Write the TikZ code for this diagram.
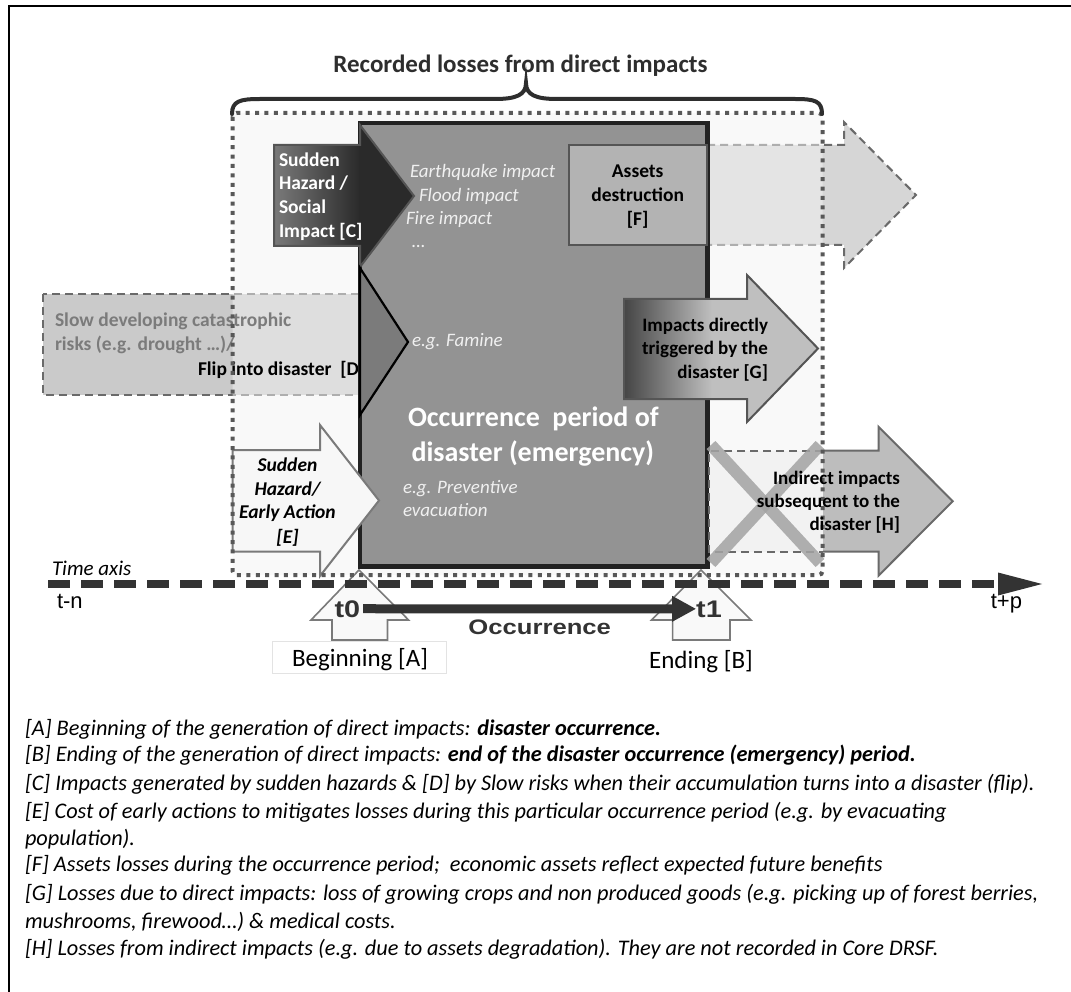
\documentclass[tikz,border=0pt]{standalone}
\usepackage{fontspec}
\setmainfont{Carlito}
\newfontfamily\arl{Liberation Sans}
\usepackage{graphicx}
\usetikzlibrary{arrows.meta}
\definecolor{mainfill}{HTML}{939393}
\definecolor{mainborder}{HTML}{222222}
\definecolor{dfill}{HTML}{CACACA}
\definecolor{ffill}{HTML}{D6D6D6}
\definecolor{regionfill}{HTML}{F3F3F3}
\definecolor{dashgray}{HTML}{6A6A6A}
\definecolor{dotgray}{HTML}{585858}
\definecolor{cleft}{HTML}{7A7A7A}
\definecolor{cdark}{HTML}{2A2A2A}
\definecolor{coutline}{HTML}{555555}
\definecolor{famfill}{HTML}{7B7B7B}
\definecolor{efill}{HTML}{F7F7F7}
\definecolor{eout}{HTML}{7A7A7A}
\definecolor{fboxfill}{HTML}{B3B3B3}
\definecolor{gfill}{HTML}{BFBFBF}
\definecolor{gdark}{HTML}{454545}
\definecolor{hfill}{HTML}{BDBDBD}
\definecolor{hlight}{HTML}{F2F2F2}
\definecolor{crossc}{HTML}{A3A3A3}
\definecolor{axisc}{HTML}{333333}
\definecolor{whitish}{HTML}{F0F0F0}
\definecolor{dgrayt}{HTML}{7B7B7B}
\definecolor{titlec}{HTML}{2E2E2E}
\definecolor{tarrow}{HTML}{F9F9F9}
\definecolor{tout}{HTML}{7A7A7A}
\definecolor{begbox}{HTML}{E3E3E3}
\newcommand\myfs[1]{\fontsize{#1}{#1}\selectfont}
\begin{document}
\begin{tikzpicture}[x=1pt,y=-1pt,
  lbl/.style={inner sep=0pt,outer sep=0pt},
  dashbox/.style={draw=dashgray,line width=2pt,dash pattern=on 8pt off 5pt},
  dotbord/.style={draw=dotgray,line width=4pt,dash pattern=on 4pt off 5.4pt},
  wbold/.style={lbl,anchor=base west,font=\myfs{19.5}\bfseries,text=white},
  dgr/.style={lbl,anchor=base west,font=\myfs{19.5}\bfseries,text=dgrayt},
  witl/.style={lbl,anchor=base west,font=\myfs{19}\itshape,text=whitish},
  bigw/.style={lbl,anchor=base west,font=\myfs{28}\bfseries,text=white},
  bblk/.style={lbl,font=\myfs{19.5}\bfseries,text=black},
  ebi/.style={lbl,anchor=base,font=\myfs{19.5}\bfseries\itshape,text=black},
  note/.style={lbl,anchor=base west,font=\myfs{22.3}\itshape,text=black},
  tarr/.style={fill=tarrow,draw=tout,line width=1.6pt,line join=miter},
  tlab/.style={lbl,anchor=base,font=\myfs{24}\arl\bfseries,text=axisc},
  axlab/.style={lbl,anchor=base west,font=\myfs{22}\arl,text=black},
  crossl/.style={draw=crossc,line width=12pt,opacity=0.85},
]
\useasboundingbox (0,0) rectangle (1071,992);

% D box (slow risks)
\draw[dashbox,fill=dfill] (43,294) rectangle (360,395);
% F extension (dashed arrow)
\draw[dashbox,fill=ffill] (707,145) -- (844,145) -- (844,122) -- (916,195) -- (844,268) -- (844,245) -- (707,245);
% recorded-losses region fill
\fill[regionfill,opacity=0.5,rounded corners=4pt] (232.5,113) rectangle (822.6,575);

% D texts
\node[dgr] (d1) at (55,326.7) {Slow developing catastrophic};
\node[dgr] (d2) at (55,350) {risks (e.g. drought …)/};
\node[bblk,anchor=base west] (d3) at (198,375) {Flip into disaster\ \ [D]};

% main occurrence box
\draw[fill=mainfill,draw=mainborder,line width=4.5pt] (360,123) rectangle (707.7,566.7);

% C arrow
\shade[left color=cleft,right color=cdark] (274,145) rectangle (360,246);
\fill[cdark] (359,125) -- (414,196) -- (359,267) -- cycle;
\draw[draw=coutline,line width=2pt,line join=miter] (274,145) -- (360,145) -- (360,125) -- (414,196) -- (360,267) -- (360,246) -- (274,246) -- cycle;

% D triangle (famine)
\draw[fill=famfill,draw=black,line width=2.2pt,line join=miter] (360,268) -- (408,342) -- (360,415) -- cycle;

% E arrow
\draw[fill=efill,draw=eout,line width=2pt,line join=miter] (232.5,450) -- (320,450) -- (320,425) -- (379,500.5) -- (320,576) -- (320,551.7) -- (232.5,551.7) -- cycle;

% F box
\draw[fill=fboxfill,draw=coutline,line width=2.2pt] (568.6,145) rectangle (707,245);

% G arrow
\fill[gfill] (624,299) -- (747,299) -- (747,275) -- (818,348.5) -- (747,422) -- (747,399) -- (624,399) -- cycle;
\shade[left color=gdark,right color=gfill] (624,299) rectangle (712,399);
\draw[draw=coutline,line width=2pt,line join=miter] (624,299) -- (747,299) -- (747,275) -- (818,348.5) -- (747,422) -- (747,399) -- (624,399) -- cycle;

% H arrow
\draw[dashbox,fill=hlight] (823,450.7) -- (709,450.7) -- (709,551.7) -- (823,551.7);
\draw[fill=hfill,draw=dashgray,line width=2pt,line join=miter] (823,450.7) -- (878.5,450.7) -- (878.5,426.7) -- (952.7,501.2) -- (878.5,575.7) -- (878.5,551.7) -- (823,551.7);
\draw[crossl] (711,445) -- (820,563);
\draw[crossl] (711,563) -- (820,445);

% t0 / t1 up arrows
\draw[tarr] (359,570) -- (408.6,620) -- (387.5,620) -- (387.5,640) -- (332,640) -- (332,620) -- (311,620) -- cycle;
\draw[tarr] (701,570) -- (751,620) -- (730,620) -- (730,640) -- (672.6,640) -- (672.6,620) -- (651.6,620) -- cycle;

% dotted border of recorded region
\draw[dotbord,rounded corners=4pt] (232.5,113) rectangle (822.6,575);

% time axis
\draw[draw=axisc,line width=8pt,dash pattern=on 22pt off 11pt] (48,584) -- (1000,584);
\fill[axisc] (998,572.5) -- (1042,584) -- (998,595.5) -- cycle;
\node[lbl,anchor=base west,font=\myfs{21}\itshape] (taxis) at (52,575) {Time axis};
\node[axlab] (tn) at (57,608) {t-n};
\node[axlab,anchor=base east] (tp) at (1022,608) {t+p};

% occurrence arrow
\node[tlab] (t0lbl) at (347.4,617) {\scalebox{1.2}[1]{t0}};
\node[tlab] (t1lbl) at (709,617) {\scalebox{1.2}[1]{t1}};
\draw[draw=axisc,line width=9pt,shorten <=3pt,-{Triangle[length=24pt,width=24pt]}] (t0lbl) -- (t1lbl);
\node[lbl,anchor=base,font=\myfs{21}\arl\bfseries,text=axisc] (occ) at (539.7,634) {\scalebox{1.22}[1]{Occurrence}};

% C text
\node[wbold] (c1) at (279,166.7) {Sudden};
\node[wbold] (c2) at (279,190) {Hazard /};
\node[wbold] (c3) at (279,214) {Social};
\node[wbold] (c4) at (279,237.3) {Impact [C]};

% main box italic texts
\node[witl] (m1) at (410,178) {Earthquake impact};
\node[witl] (m2) at (419,201.7) {Flood impact};
\node[witl] (m3) at (406,225) {Fire impact};
\node[witl] (m4) at (412,248) {…};
\node[witl] (m5) at (412,346) {e.g. Famine};
\node[witl] (m6) at (403,493.3) {e.g. Preventive};
\node[witl] (m7) at (403,516.7) {evacuation};
\node[bigw] (o1) at (408,426.7) {Occurrence\ \ period of};
\node[bigw] (o2) at (411.5,461.7) {disaster (emergency)};

% E text
\node[ebi] (e1) at (287.5,471.7) {Sudden};
\node[ebi] (e2) at (287.5,495) {Hazard/};
\node[ebi] (e3) at (287.5,518) {Early Action};
\node[ebi] (e4) at (287.5,543) {[E]};

% F text
\node[bblk,anchor=base] (f1) at (637.7,178) {Assets};
\node[bblk,anchor=base] (f2) at (637.7,202) {destruction};
\node[bblk,anchor=base] (f3) at (637.7,226) {[F]};

% G text
\node[bblk,anchor=base east,font=\myfs{19}\bfseries] (g1) at (768,331.7) {Impacts directly};
\node[bblk,anchor=base east,font=\myfs{19}\bfseries] (g2) at (768,355) {triggered by the};
\node[bblk,anchor=base east,font=\myfs{19}\bfseries] (g3) at (768,378.3) {disaster [G]};

% H text
\node[bblk,anchor=base east,font=\myfs{19}\bfseries] (h1) at (900,484) {Indirect impacts};
\node[bblk,anchor=base east,font=\myfs{19}\bfseries] (h2) at (900,507.3) {subsequent to the};
\node[bblk,anchor=base east,font=\myfs{19}\bfseries] (h3) at (900,530.7) {disaster [H]};

% brace and title
\draw[draw=titlec,line width=4pt,line cap=round] (232,114) .. controls (232,101) and (240,99) .. (260,99) -- (495,99) .. controls (516,99) and (526,95) .. (526,83) .. controls (526,95) and (536,99) .. (557,99) -- (795,99) .. controls (815,99) and (822,101) .. (822,114);
\node[lbl,anchor=base,font=\myfs{25}\bfseries,text=titlec] (title) at (520.5,73) {Recorded losses from direct impacts};

% Beginning / Ending labels
\draw[draw=begbox,line width=0.8pt] (272.7,641.7) rectangle (446.8,673.3);
\node[lbl,anchor=base,font=\myfs{25}] (beg) at (360,666.7) {Beginning [A]};
\node[lbl,anchor=base,font=\myfs{25}] (end) at (701,668) {Ending [B]};

% notes
\node[note] (n1) at (25,735) {[A] Beginning of the generation of direct impacts: \textbf{disaster occurrence.}};
\node[note] (n2) at (25,761.7) {[B] Ending of the generation of direct impacts: \textbf{end of the disaster occurrence (emergency) period.}};
\node[note] (n3) at (25,790) {[C] Impacts generated by sudden hazards \& [D] by Slow risks when their accumulation turns into a disaster (flip).};
\node[note] (n4) at (25,818.3) {[E] Cost of early actions to mitigates losses during this particular occurrence period (e.g. by evacuating};
\node[note] (n5) at (25,845) {population).};
\node[note] (n6) at (25,871.7) {[F] Assets losses during the occurrence period;\ \ economic assets reflect expected future benefits};
\node[note] (n7) at (25,900) {[G] Losses due to direct impacts: loss of growing crops and non produced goods (e.g. picking up of forest berries,};
\node[note] (n8) at (25,928.3) {mushrooms, firewood…) \& medical costs.};
\node[note] (n9) at (25,955) {[H] Losses from indirect impacts (e.g. due to assets degradation). They are not recorded in Core DRSF.};

% frame
\draw[line width=2pt] (9,992) -- (9,6) -- (1071,6);
\end{tikzpicture}
\end{document}
